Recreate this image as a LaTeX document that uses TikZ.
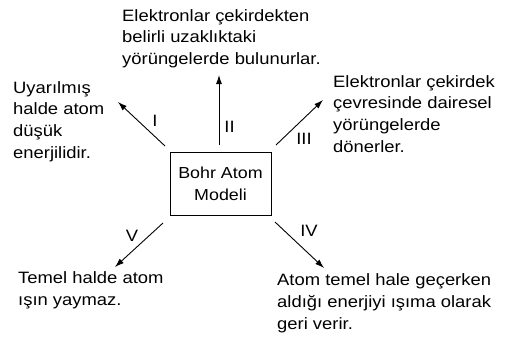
\documentclass[tikz,border=0pt]{standalone}
\usepackage{fontspec}
\setmainfont[FakeStretch=1.12]{Liberation Sans}
\usetikzlibrary{arrows.meta}

\begin{document}
\begin{tikzpicture}[x=1bp,y=-1bp,
        txt/.style={anchor=base west, align=left, inner sep=0pt, font=\fontsize{16.5}{21.7}\selectfont},
        num/.style={inner sep=0pt, font=\fontsize{16.5}{19}\selectfont},
        arr/.style={-{Latex[length=9bp,width=6bp]}, line width=0.9bp}]
            \useasboundingbox (0,0) rectangle (511,336);
            \node[draw, line width=0.9bp, minimum width=101bp, minimum height=63.4bp, align=center, inner sep=0pt, font=\fontsize{16}{22}\selectfont](bohr) at (220.5,184){Bohr Atom\\Modeli};
            % metinler (son satirin tabani)
            \node[txt](ust) at (122,64.5){Elektronlar çekirdekten\\belirli uzaklıktaki\\yörüngelerde bulunurlar.};
            \node[txt](sol) at (13,158){Uyarılmış\\halde atom\\düşük\\enerjilidir.};
            \node[txt](sag) at (333,152){Elektronlar çekirdek\\çevresinde dairesel\\yörüngelerde\\dönerler.};
            \node[txt](altsol) at (18,305.5){Temel halde atom\\ışın yaymaz.};
            \node[txt](altsag) at (277,329){Atom temel hale geçerken\\aldığı enerjiyi ışıma olarak\\geri verir.};
            % ok uclari
            \coordinate (s1) at (165,146); \coordinate (e1) at (118,102);
            \coordinate (s2) at (219,145); \coordinate (e2) at (219,75);
            \coordinate (s3) at (276,145); \coordinate (e3) at (323,100);
            \coordinate (s4) at (275,222); \coordinate (e4) at (324,268);
            \coordinate (s5) at (163,223); \coordinate (e5) at (115,267);
            \path (s1) edge[arr] (e1);
            \path (s2) edge[arr] (e2);
            \path (s3) edge[arr] (e3);
            \path (s4) edge[arr] (e4);
            \path (s5) edge[arr] (e5);
            \node[num](n1) at (155,121){I};
            \node[num](n2) at (229.5,127){II};
            \node[num](n3) at (304,139){III};
            \node[num](n4) at (309,231){IV};
            \node[num](n5) at (132,236){V};
\end{tikzpicture}
\end{document}
